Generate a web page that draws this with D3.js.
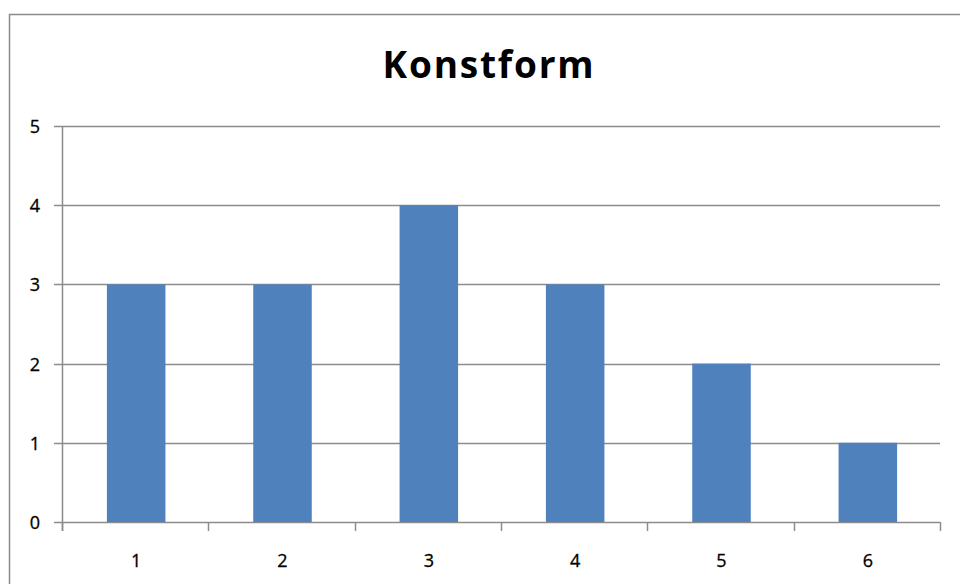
<!DOCTYPE html>
<html>
<head>
<meta charset="utf-8">
<script src="https://cdn.jsdelivr.net/npm/d3@7"></script>
<style>
  body { margin: 0; background: #fff; }
  svg { display: block; }
</style>
</head>
<body>
<div id="chart"></div>
<script>
const title = "Konstform";
const categories = ["1", "2", "3", "4", "5", "6"];
const values = [3, 3, 4, 3, 2, 1];
const yTicks = [0, 1, 2, 3, 4, 5];

const W = 960, H = 584;
const margin = {left: 62, right: 20, top: 126, bottom: 62};

const svg = d3.select("#chart").append("svg")
  .attr("width", W)
  .attr("height", H);

// chart border (runs off the right and bottom)
svg.append("rect")
  .attr("x", 9.5)
  .attr("y", 14.5)
  .attr("width", 1000)
  .attr("height", 1000)
  .attr("fill", "#fff")
  .attr("stroke", "#8c8c8c")
  .attr("stroke-width", 1.5);

const x = d3.scaleBand()
  .domain(categories)
  .range([margin.left, 940]);

const y = d3.scaleLinear()
  .domain([0, 5])
  .range([522, margin.top]);

// gridlines
svg.append("g")
  .selectAll("line")
  .data(yTicks)
  .enter()
  .append("line")
  .attr("x1", 54)
  .attr("x2", 940)
  .attr("y1", d => Math.round(y(d)) + 0.5)
  .attr("y2", d => Math.round(y(d)) + 0.5)
  .attr("stroke", "#8c8c8c")
  .attr("stroke-width", 1.5);

// y axis line
svg.append("line")
  .attr("x1", margin.left + 0.5)
  .attr("x2", margin.left + 0.5)
  .attr("y1", y(5))
  .attr("y2", y(0) + 9)
  .attr("stroke", "#8c8c8c")
  .attr("stroke-width", 1.5);

// bars
const barW = x.bandwidth() * 0.4;
svg.append("g")
  .selectAll("rect")
  .data(values)
  .enter()
  .append("rect")
  .attr("x", (d, i) => x(categories[i]) + (x.bandwidth() - barW) / 2 + 1)
  .attr("y", d => y(d))
  .attr("width", barW)
  .attr("height", d => y(0) - y(d))
  .attr("fill", "#4f81bd");

// x axis tick marks at category boundaries
const bounds = categories.map(c => x(c)).concat([x.range()[1]]);
svg.append("g")
  .selectAll("line")
  .data(bounds)
  .enter()
  .append("line")
  .attr("x1", d => Math.round(d) + 0.5)
  .attr("x2", d => Math.round(d) + 0.5)
  .attr("y1", y(0))
  .attr("y2", y(0) + 9)
  .attr("stroke", "#8c8c8c")
  .attr("stroke-width", 1.5);

// y labels
svg.append("g")
  .selectAll("text")
  .data(yTicks)
  .enter()
  .append("text")
  .text(d => d)
  .attr("x", 40)
  .attr("y", d => y(d) + 7)
  .attr("text-anchor", "end")
  .attr("font-family", "'Open Sans', sans-serif")
  .attr("font-size", 18)
  .attr("fill", "#000")
  .attr("stroke", "#000")
  .attr("stroke-width", 0.3);

// x labels
svg.append("g")
  .selectAll("text")
  .data(categories)
  .enter()
  .append("text")
  .text(d => d)
  .attr("x", d => x(d) + x.bandwidth() / 2 + 1)
  .attr("y", 567)
  .attr("text-anchor", "middle")
  .attr("font-family", "'Open Sans', sans-serif")
  .attr("font-size", 18)
  .attr("fill", "#000")
  .attr("stroke", "#000")
  .attr("stroke-width", 0.3);

// title
svg.append("text")
  .text(title)
  .attr("x", 489)
  .attr("y", 78)
  .attr("text-anchor", "middle")
  .attr("font-family", "'Open Sans', sans-serif")
  .attr("font-weight", "bold")
  .attr("font-size", 37)
  .attr("letter-spacing", 1.8)
  .attr("fill", "#000");
</script>
</body>
</html>
